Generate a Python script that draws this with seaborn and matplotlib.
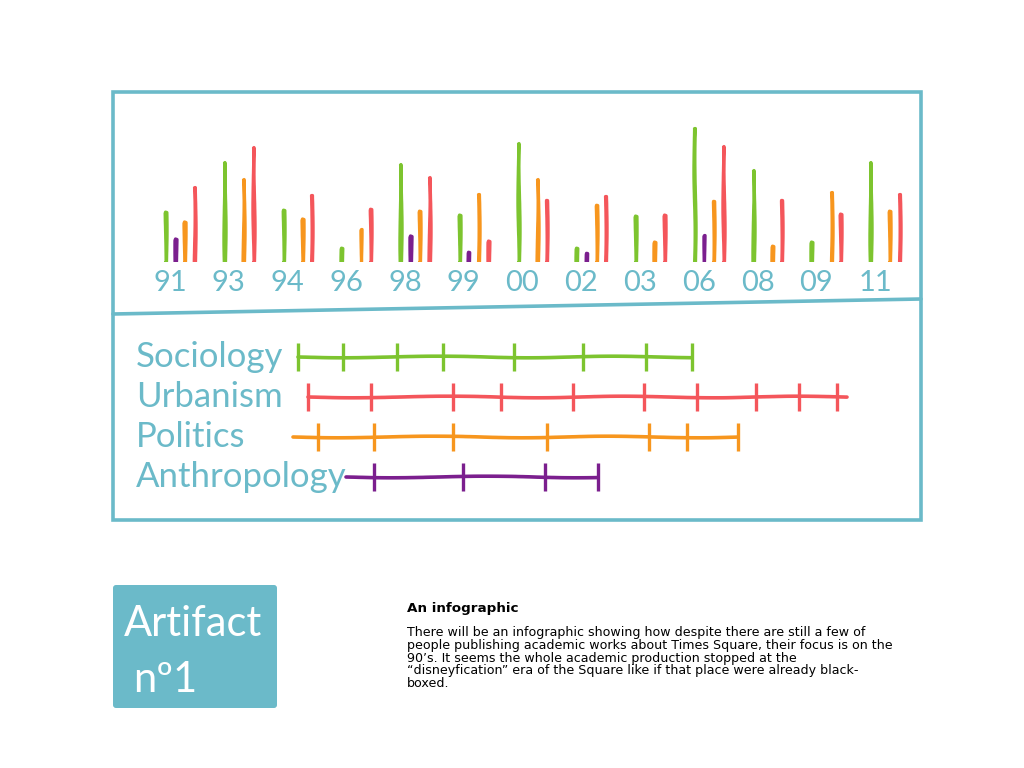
import pandas as pd
import matplotlib
matplotlib.use("Agg")
import matplotlib.pyplot as plt
import matplotlib.transforms as mtransforms
from matplotlib.patches import Rectangle, FancyBboxPatch
import seaborn as sns

# publications per year and field (bar heights)
years = ["91", "93", "94", "96", "98", "99", "00", "02", "03", "06", "08", "09", "11"]
fields = ["Sociology", "Anthropology", "Politics", "Urbanism"]
sociology = [5.0, 10.0, 5.2, 1.4, 9.8, 4.7, 11.9, 1.4, 4.6, 13.4, 9.2, 2.0, 10.0]
anthropology = [2.3, 0, 0, 0, 2.6, 1.0, 0, 0.9, 0, 2.7, 0, 0, 0]
politics = [4.0, 8.3, 4.3, 3.3, 5.1, 6.8, 8.3, 5.7, 2.0, 6.1, 1.6, 7.0, 5.1]
urbanism = [7.5, 11.5, 6.7, 5.3, 8.5, 2.1, 6.2, 6.6, 4.7, 11.6, 6.2, 4.8, 6.8]

# timelines: dates of works per field, and extent of each line
timeline_order = ["Sociology", "Urbanism", "Politics", "Anthropology"]
sociology_ticks = [1990.3, 1992.1, 1994.2, 1996.0, 1998.8, 2001.5, 2004.0, 2005.8]
urbanism_ticks = [1990.7, 1993.2, 1996.4, 1998.3, 2001.1, 2003.9, 2006.0, 2008.3, 2010.0, 2011.5]
politics_ticks = [1991.1, 1993.3, 1996.4, 2000.1, 2004.1, 2005.6, 2007.6]
anthropology_ticks = [1993.3, 1996.8, 2000.0, 2002.1]
sociology_span = [1990.3, 2005.8]
urbanism_span = [1990.7, 2011.9]
politics_span = [1990.1, 2007.6]
anthropology_span = [1992.2, 2002.1]

title = "An infographic"
body = ("There will be an infographic showing how despite there are still a few of\n"
        "people publishing academic works about Times Square, their focus is on the\n"
        "90\u2019s. It seems the whole academic production stopped at the\n"
        "\u201cdisneyfication\u201d era of the Square like if that place were already black-\n"
        "boxed.")

teal = "#6bbac9"
colors = {"Sociology": "#7dc42f", "Anthropology": "#7b1f8e",
          "Politics": "#f7961e", "Urbanism": "#f4565b"}
hand = ["Lato", "DejaVu Sans"]

sns.set_theme(style="white")
plt.rcParams["font.family"] = ["DejaVu Sans"]

fig = plt.figure(figsize=(10.24, 7.68), dpi=100)
W, H = 1024, 768

# decoration layer in pixel coordinates
deco = fig.add_axes([0, 0, 1, 1])
deco.set_xlim(0, W)
deco.set_ylim(H, 0)
deco.set_axis_off()
deco.add_patch(Rectangle((113, 92), 808, 428, fill=False, ec=teal, lw=2.6))
deco.plot([113, 921], [314, 299], color=teal, lw=2.6, solid_capstyle="round")
deco.add_patch(FancyBboxPatch((113, 585), 164, 123, boxstyle="round,pad=0,rounding_size=3",
                              fc=teal, ec="none"))
deco.text(124, 624, "Artifact", color="white", fontsize=30, family=hand, va="center")
deco.text(133, 680, "n\u00ba1", color="white", fontsize=30, family=hand, va="center")
deco.text(407, 602, title, fontsize=9.7, fontweight="bold", va="top", color="black")
deco.text(407, 626, body, fontsize=9.1, va="top", linespacing=0.98, color="black")

# bars
bars = pd.DataFrame({"year": years * 4,
                     "field": [f for f in fields for _ in years],
                     "count": sociology + anthropology + politics + urbanism})
bars = bars[bars["count"] > 0]

ax = fig.add_axes([150.6 / W, (H - 262) / H, 763.8 / W, 162 / H])
sns.barplot(data=bars, x="year", y="count", hue="field", order=years, hue_order=fields,
            palette=colors, saturation=1, width=0.65, gap=0.9, errorbar=None,
            legend=False, ax=ax)
for p in ax.patches:
    p.set_edgecolor(p.get_facecolor())
    p.set_linewidth(2.3)
    p.set_joinstyle("round")
    p.set_capstyle("round")
    p.set_sketch_params(0.6, 150, 2)
ax.set_xlim(-0.5, len(years) - 0.5)
ax.set_ylim(0, 16.2)
ax.set_facecolor("none")
sns.despine(ax=ax, left=True, bottom=True)
ax.set_yticks([])
ax.set_xlabel("")
ax.set_ylabel("")
ax.tick_params(axis="x", length=0, pad=6, labelsize=21, labelcolor=teal)
shift = mtransforms.ScaledTranslation(-10 / 100, 0, fig.dpi_scale_trans)
for lab in ax.get_xticklabels():
    lab.set_family(hand)
    lab.set_transform(lab.get_transform() + shift)

# timelines
rows = {f: i for i, f in enumerate(timeline_order)}
ticks = {"Sociology": sociology_ticks, "Urbanism": urbanism_ticks,
         "Politics": politics_ticks, "Anthropology": anthropology_ticks}
spans = {"Sociology": sociology_span, "Urbanism": urbanism_span,
         "Politics": politics_span, "Anthropology": anthropology_span}
tick_df = pd.DataFrame([(f, x, rows[f]) for f in timeline_order for x in ticks[f]],
                       columns=["field", "year", "row"])
span_df = pd.DataFrame([(f, x, rows[f]) for f in timeline_order for x in spans[f]],
                       columns=["field", "year", "row"])

tl = fig.add_axes([290 / W, (H - 497) / H, 560 / W, 160 / H])
sns.lineplot(data=span_df, x="year", y="row", hue="field", palette=colors, sort=False,
             estimator=None, units="field", lw=2.6, legend=False, ax=tl)
sns.scatterplot(data=tick_df, x="year", y="row", hue="field", palette=colors, marker="|",
                s=420, linewidth=2.4, legend=False, ax=tl)
for ln in tl.lines:
    ln.set_sketch_params(0.8, 200, 2)
    ln.set_solid_capstyle("round")
tl.set_xlim(1990, 2012)
tl.set_ylim(3.5, -0.5)
tl.set_axis_off()

lab_tr = mtransforms.blended_transform_factory(fig.transFigure, tl.transData)
for f in timeline_order:
    tl.text(136 / W, rows[f], f, transform=lab_tr, color=teal, fontsize=25,
            family=hand, va="center", ha="left")

fig.savefig("out.png", dpi=100)
